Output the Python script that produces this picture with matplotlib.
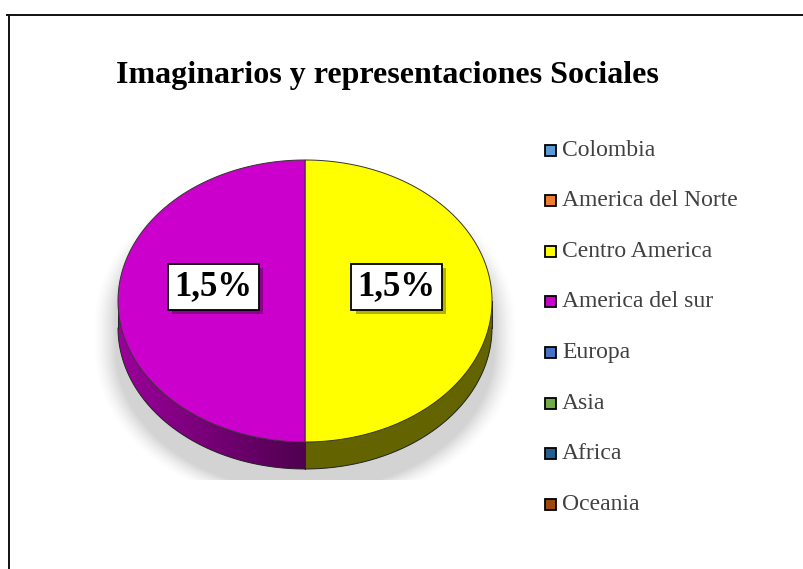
import numpy as np
import matplotlib
matplotlib.use('Agg')
import matplotlib.pyplot as plt
from matplotlib.patches import Polygon, Rectangle
from matplotlib.lines import Line2D
import matplotlib.patheffects as pe

# data
categories = ['Colombia', 'America del Norte', 'Centro America', 'America del sur',
              'Europa', 'Asia', 'Africa', 'Oceania']
values = [0.0, 0.0, 1.5, 1.5, 0.0, 0.0, 0.0, 0.0]
colors = ['#5B9BD5', '#ED7D31', '#FFFF00', '#CC00CC',
          '#4472C4', '#70AD47', '#255E91', '#9E480E']
title = 'Imaginarios y representaciones Sociales'

W, H = 804, 569
fig = plt.figure(figsize=(W / 100, H / 100), dpi=100)
ax = fig.add_axes([0, 0, 1, 1])
ax.axis('off')

serif = ['Liberation Serif', 'DejaVu Serif']

# chart frame (only top and left edges show)
ax.add_line(Line2D([7, 803], [15, 15], color='#111111', lw=1.4))
ax.add_line(Line2D([9, 9], [15, 569], color='#111111', lw=1.4))

ax.text(387, 75, title, ha='center', va='center', fontsize=23,
        fontweight='bold', family=serif, color='black')

# 3d pie geometry (pixels)
cx, cy, a, b, depth = 305, 301, 187, 141, 27


def ell(phi):
    return cx + a * np.cos(phi), cy - b * np.sin(phi)


yy, xx = np.mgrid[0:H, 0:W] + 0.5

# soft shadow under the pie, cut at the plot area bottom
sy = yy - 22
inner = np.clip(sy, cy, cy + depth)
r = np.sqrt(((xx - cx) / (a + 2)) ** 2 + ((sy - inner) / b) ** 2)
dist = (r - 1) * 150
alpha = np.clip(1 - dist / 18, 0, 1) ** 1.5 * 0.34
alpha[dist < 0] = 0.34
alpha[yy > 480] = 0
shadow = np.zeros((H, W, 4))
shadow[..., :3] = 0.5
shadow[..., 3] = alpha
ax.imshow(shadow, extent=(0, W, H, 0), zorder=1, interpolation='bilinear')

total = sum(values)
cum = np.concatenate([[0], np.cumsum(values)])
starts = np.deg2rad(90 - 360 * cum[:-1] / total)
ends = np.deg2rad(90 - 360 * cum[1:] / total)

# horizontal light falloff used on the side walls
shade = 0.39 + 0.37 * np.clip(-(xx - cx) / a, 0, 1)

# side walls (front half only)
for v, col, t0, t1 in zip(values, colors, starts, ends):
    if v <= 0:
        continue
    lo, hi = min(t0, t1), max(t0, t1)
    base = np.array(matplotlib.colors.to_rgb(col))
    for k in range(-2, 3):
        f0 = max(lo, np.pi + 2 * np.pi * k)
        f1 = min(hi, 2 * np.pi + 2 * np.pi * k)
        if f1 <= f0:
            continue
        ph = np.linspace(f0, f1, 200)
        x, y = ell(ph)
        pts = np.column_stack([np.r_[x, x[::-1]], np.r_[y, y[::-1] + depth]])
        wall = Polygon(pts, closed=True, fc='none', ec='none')
        ax.add_patch(wall)
        img = shade[..., None] * base[None, None, :]
        im = ax.imshow(img, extent=(0, W, H, 0), zorder=2, interpolation='bilinear')
        im.set_clip_path(wall)
        ax.plot(x, y + depth, color='#222222', lw=0.7, zorder=3)
        for pp in (f0, f1):
            ex, ey = ell(pp)
            ax.plot([ex, ex], [ey, ey + depth], color='#222222', lw=0.7, zorder=3)

# top faces
for v, col, t0, t1 in zip(values, colors, starts, ends):
    if v <= 0:
        continue
    ph = np.linspace(t0, t1, 300)
    x, y = ell(ph)
    pts = np.column_stack([np.r_[cx, x], np.r_[cy, y]])
    ax.add_patch(Polygon(pts, closed=True, fc=col, ec='#333333', lw=0.7, zorder=4))

# data labels
for v, t0, t1 in zip(values, starts, ends):
    if v <= 0:
        continue
    mid = 0.5 * (t0 + t1)
    lx = cx + 0.49 * a * np.cos(mid)
    ly = cy - 0.49 * b * np.sin(mid) - 14
    lbl = f'{v:.1f}%'.replace('.', ',')
    t = ax.text(lx, ly, lbl, ha='center', va='center', fontsize=25,
                fontweight='bold', family=serif, color='black', zorder=6,
                bbox=dict(boxstyle='square,pad=0.18', fc='white', ec='black', lw=1.3))
    t.get_bbox_patch().set_path_effects([
        pe.SimplePatchShadow(offset=(3, -3), shadow_rgbFace='#000000', alpha=0.3),
        pe.Normal()])

# legend
for i, (name, col) in enumerate(zip(categories, colors)):
    ly = 150 + i * 50.6
    ax.add_patch(Rectangle((545, ly - 5.5), 11, 11, fc=col, ec='black', lw=1.3, zorder=5))
    ax.text(562, ly, name, ha='left', va='center', fontsize=17, family=serif,
            color='#404040', zorder=5)

ax.set_xlim(0, W)
ax.set_ylim(H, 0)
fig.savefig('out.png', dpi=100)
